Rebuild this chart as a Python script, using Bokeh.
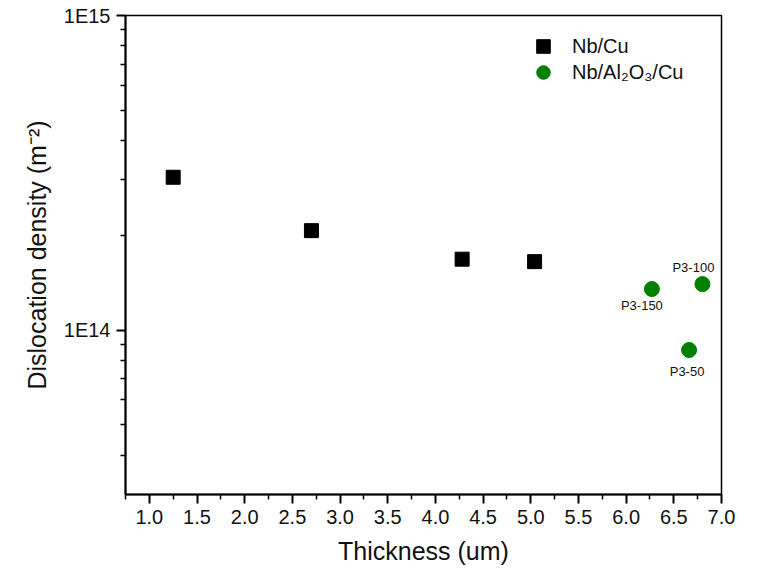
from bokeh.plotting import figure
from bokeh.models import (FixedTicker, CustomJSTickFormatter, NumeralTickFormatter,
                          ColumnDataSource, LabelSet, Legend, LegendItem)
from bokeh.core.properties import value
from bokeh.embed import file_html
from bokeh.resources import INLINE

# ---- data ----
nbcu_thickness = [1.25, 2.70, 4.28, 5.04]
nbcu_density = [3.06e14, 2.07e14, 1.68e14, 1.65e14]

nbal_thickness = [6.27, 6.80, 6.66]
nbal_density = [1.35e14, 1.40e14, 8.64e13]
nbal_names = ["P3-150", "P3-100", "P3-50"]

x_ticks = [1.0, 1.5, 2.0, 2.5, 3.0, 3.5, 4.0, 4.5, 5.0, 5.5, 6.0, 6.5, 7.0]
x_minor_ticks = [0.75, 1.25, 1.75, 2.25, 2.75, 3.25, 3.75, 4.25, 4.75, 5.25,
                 5.75, 6.25, 6.75]
y_ticks = [1e14, 1e15]
y_minor_ticks = [4e13, 5e13, 6e13, 7e13, 8e13, 9e13,
                 2e14, 3e14, 4e14, 5e14, 6e14, 7e14, 8e14, 9e14]

# label offsets (style, screen px)
label_dx = [-10, -9, -2]
label_dy = [-16, 17, -21]

FONT = "Liberation Sans"

p = figure(frame_width=596, frame_height=479,
           x_range=(0.75, 7.0), y_range=(3e13, 1e15), y_axis_type="log",
           output_backend="svg", toolbar_location=None,
           min_border_left=125, min_border_top=15, min_border_right=22,
           min_border_bottom=10)

p.xgrid.visible = False
p.ygrid.visible = False
p.outline_line_color = "black"
p.outline_line_width = 1.5
p.background_fill_color = "white"

sq = p.scatter(nbcu_thickness, nbcu_density, marker="square", size=14,
               fill_color="black", line_color="black")
ci = p.scatter(nbal_thickness, nbal_density, marker="circle", size=15,
               fill_color="#008000", line_color="#008000")

src = ColumnDataSource(dict(x=nbal_thickness, y=nbal_density, t=nbal_names,
                            dx=label_dx, dy=label_dy))
p.add_layout(LabelSet(x="x", y="y", text="t", source=src, x_offset="dx",
                      y_offset="dy", text_align="center", text_baseline="middle",
                      text_font=value(FONT), text_font_size=value("13px"),
                      text_color="#111111"))

# axes
xa = p.xaxis[0]
xa.ticker = FixedTicker(ticks=x_ticks, minor_ticks=x_minor_ticks)
xa.formatter = NumeralTickFormatter(format="0.0")
xa.axis_label = "Thickness (um)"

ya = p.yaxis[0]
ya.ticker = FixedTicker(ticks=y_ticks, minor_ticks=y_minor_ticks)
ya.formatter = CustomJSTickFormatter(code="return '1E' + Math.round(Math.log10(tick)).toString();")
ya.axis_label = "Dislocation density (m\u207B\u00B2)"

for ax in (xa, ya):
    ax.axis_line_color = "black"
    ax.axis_line_width = 2
    ax.major_tick_line_color = "black"
    ax.major_tick_line_width = 2
    ax.minor_tick_line_color = "black"
    ax.minor_tick_line_width = 1.5
    ax.major_tick_out = 9
    ax.major_tick_in = 0
    ax.minor_tick_out = 5
    ax.minor_tick_in = 0
    ax.major_label_text_font = FONT
    ax.major_label_text_font_size = "20px"
    ax.major_label_text_color = "#111111"
    ax.axis_label_text_font = FONT
    ax.axis_label_text_font_size = "25px"
    ax.axis_label_text_font_style = "normal"
    ax.axis_label_text_color = "#111111"
xa.major_label_standoff = 6
ya.major_label_standoff = 6
xa.axis_label_standoff = 10
ya.axis_label_standoff = 10

common = dict(padding=0, margin=0, spacing=0, glyph_width=34, glyph_height=34,
              label_standoff=12, label_text_font=FONT, label_text_font_size="20px",
              label_text_color="#111111", border_line_alpha=0,
              background_fill_alpha=0)
leg1 = Legend(items=[LegendItem(label="Nb/Cu", renderers=[sq])],
              location=(401, 431), **common)
leg2 = Legend(items=[LegendItem(label="Nb/Al\u2082O\u2083/Cu", renderers=[ci])],
              location=(401, 405), **common)
p.add_layout(leg1)
p.add_layout(leg2)

open("out.html", "w").write(file_html(p, INLINE))
